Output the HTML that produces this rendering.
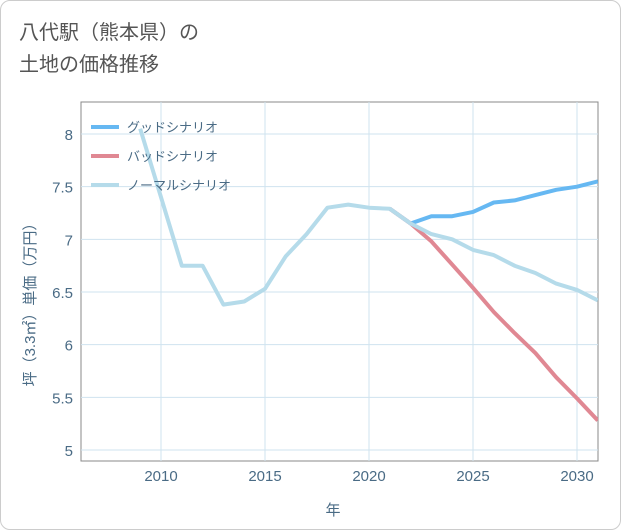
<!DOCTYPE html>
<html><head><meta charset="utf-8"><style>
body{margin:0;background:#fff;}
#card{position:absolute;left:0;top:0;width:619px;height:528px;border:1px solid #ccc;border-radius:10px;background:#fff;font-family:"Liberation Sans","Noto Sans CJK JP",sans-serif;}
#title{position:absolute;left:18px;top:16px;font-size:20px;line-height:32px;color:#555;}
svg{position:absolute;left:0;top:0;}
</style></head><body>
<div id="card">
<div id="title">八代駅（熊本県）の<br>土地の価格推移</div>
<svg id="chart" width="621" height="530"></svg>
</div>
<script>
const years=[2009,2010,2011,2012,2013,2014,2015,2016,2017,2018,2019,2020,2021,2022,2023,2024,2025,2026,2027,2028,2029,2030,2031];
const normalVals=[8.05,7.4,6.75,6.75,6.38,6.41,6.53,6.84,7.05,7.30,7.33,7.30,7.29,7.15,7.05,7.0,6.9,6.85,6.75,6.68,6.58,6.52,6.42];
const futureYears=[2021,2022,2023,2024,2025,2026,2027,2028,2029,2030,2031];
const goodVals=[7.29,7.15,7.22,7.22,7.26,7.35,7.37,7.42,7.47,7.50,7.55];
const badVals=[7.29,7.15,6.98,6.76,6.54,6.31,6.11,5.92,5.69,5.49,5.28];
const xTicks=[2010,2015,2020,2025,2030];
const yTicks=[5,5.5,6,6.5,7,7.5,8];
const yTickLabels=["5","5.5","6","6.5","7","7.5","8"];
const L=80,R=597,T=101,B=460;
const x=v=>160+(v-2010)*(576-160)/20;
const y=v=>449-(v-5)*(449-133)/3;
const svg=document.getElementById('chart');
const NS='http://www.w3.org/2000/svg';
function mk(t,a){const e=document.createElementNS(NS,t);for(const k in a)e.setAttribute(k,a[k]);svg.appendChild(e);return e;}
let e;
e=mk('rect',{x:L,y:T,width:R-L,height:B-T,fill:'#fff',stroke:'#888','stroke-width':1});


xTicks.forEach(t=>{
 e=mk('line',{x1:x(t),x2:x(t),y1:T,y2:B,stroke:'#cfe3ef','stroke-width':1});
 
 
 e=mk('text',{x:x(t),y:480,'text-anchor':'middle','font-size':15,fill:'#4a6b85'});e.textContent=t;
 
 
});
yTicks.forEach((t,i)=>{
 e=mk('line',{x1:L,x2:R,y1:y(t),y2:y(t),stroke:'#cfe3ef','stroke-width':1});
 
 
 e=mk('text',{x:72,y:y(t)+6,'text-anchor':'end','font-size':15,fill:'#4a6b85'});e.textContent=yTickLabels[i];
 
 
});
e=mk('text',{x:332,y:514,'text-anchor':'middle','font-size':15,fill:'#4a6b85'});e.textContent='年';


e=mk('text',{x:0,y:0,'text-anchor':'middle','font-size':15,fill:'#4a6b85',transform:'translate(34,300) rotate(-90)'});e.textContent='坪（3.3㎡）単価（万円）';


const defs=mk('defs',{});
const cp=document.createElementNS(NS,'clipPath');cp.setAttribute('id','clip');defs.appendChild(cp);
const cr=document.createElementNS(NS,'rect');cr.setAttribute('x',L);cr.setAttribute('y',T);cr.setAttribute('width',R-L);cr.setAttribute('height',B-T);cp.appendChild(cr);
function line(xs,vs,color,name){
 const d=xs.map((v,i)=>(i?'L':'M')+x(v).toFixed(1)+','+y(vs[i]).toFixed(1)).join('');
 e=mk('path',{d:d,fill:'none',stroke:color,'stroke-width':4,'stroke-linejoin':'round','clip-path':'url(#clip)'});
 
 
}
line(futureYears,goodVals,'#66b8f2','good-scenario-line');
line(futureYears,badVals,'#e08893','bad-scenario-line');
line(years,normalVals,'#b5dbea','normal-scenario-line');
const leg=[['グッドシナリオ','#66b8f2'],['バッドシナリオ','#e08893'],['ノーマルシナリオ','#b5dbea']];
leg.forEach((l,i)=>{
 const yy=126+i*29;
 e=mk('line',{x1:90,x2:118,y1:yy,y2:yy,stroke:l[1],'stroke-width':4});
 
 
 e=mk('text',{x:126,y:yy+5,'font-size':13,fill:'#4a6b85'});e.textContent=l[0];
 
 
});
</script>
</body></html>
